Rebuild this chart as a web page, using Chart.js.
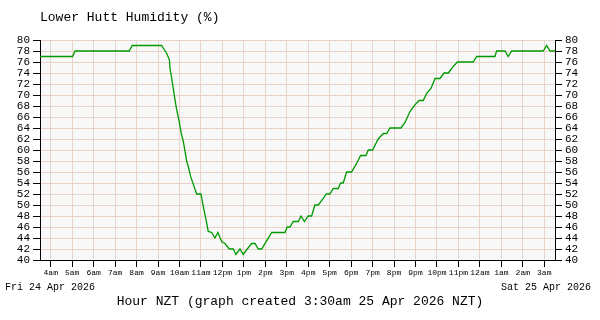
<!DOCTYPE html>
<html>
<head>
    <meta charset="utf-8">
    <title>Lower Hutt Humidity</title>
    <script src="https://cdn.jsdelivr.net/npm/chart.js@4.4.1/dist/chart.umd.min.js"></script>
    <style>
        body { margin: 0; background: #fff; }
        #chart-wrapper { position: relative; width: 600px; height: 320px; }
    </style>
</head>
<body>
<div id="chart-wrapper">
    <canvas id="myChart"></canvas>
</div>
<script>

// hour ticks (hours since midnight Fri 24 Apr)
var hours = [4, 5, 6, 7, 8, 9, 10, 11, 12, 13, 14, 15, 16, 17, 18, 19, 20, 21, 22, 23, 24, 25, 26, 27];
var hourLabels = ['4am', '5am', '6am', '7am', '8am', '9am', '10am', '11am', '12pm', '1pm', '2pm', '3pm',
                  '4pm', '5pm', '6pm', '7pm', '8pm', '9pm', '10pm', '11pm', '12am', '1am', '2am', '3am'];

var times = [3.5, 5.02, 5.13, 7.66, 7.80, 9.17, 9.25, 9.40, 9.53, 9.56, 9.64, 9.71, 9.79, 9.87, 9.99,
             10.07, 10.18, 10.26, 10.34, 10.41, 10.52, 10.64, 10.80, 11.00, 11.11, 11.24, 11.34, 11.50,
             11.65, 11.79, 11.97, 12.12, 12.32, 12.51, 12.63, 12.82, 12.97, 13.16, 13.36, 13.52, 13.67,
             13.83, 14.03, 14.30, 14.92, 15.02, 15.15, 15.30, 15.54, 15.66, 15.82, 16.00, 16.16, 16.31,
             16.47, 16.70, 16.84, 17.01, 17.17, 17.40, 17.51, 17.63, 17.79, 18.02, 18.26, 18.44, 18.69,
             18.80, 19.00, 19.26, 19.50, 19.66, 19.81, 20.32, 20.51, 20.74, 20.97, 21.17, 21.36, 21.52,
             21.72, 21.91, 22.14, 22.33, 22.53, 22.76, 22.96, 23.69, 23.85, 24.70, 24.78, 25.17, 25.32,
             25.48, 26.95, 27.11, 27.27, 27.5];
var humidity = [77, 77, 78, 78, 79, 79, 78.5, 77.6, 76.4, 74.8, 73, 71.2, 69.1, 67.3, 65.1,
                63.3, 61.5, 59.7, 57.9, 57, 55.2, 53.8, 52, 52, 49.7, 47.3, 45.2, 45,
                44, 45, 43.3, 43, 42, 42, 41, 42, 41, 42, 43, 43, 42,
                42, 43.3, 45, 45, 46, 46, 47, 47, 48, 47, 48, 48, 50,
                50, 51.2, 52, 52, 53, 53, 54, 54, 56, 56, 57.6, 59, 59,
                60, 60, 62, 63, 63, 64, 64, 65, 67, 68.2, 69, 69, 70.3,
                71.2, 73, 73, 74, 74, 75.2, 76, 76, 77, 77, 78, 78, 77,
                78, 78, 79, 78, 78];

var gridColor = '#e8d3c8';
var mono = 'Liberation Mono';

var points = times.map(function (t, i) { return { x: t, y: humidity[i] }; });

// plot background and the extra labels
var decor = {
    id: 'decor',
    beforeDraw: function (chart) {
        var a = chart.chartArea;
        var c = chart.ctx;
        c.save();
        c.fillStyle = '#f8f8f8';
        c.fillRect(a.left, a.top, a.right - a.left, a.bottom - a.top);
        c.restore();
    },
    afterDraw: function (chart) {
        var c = chart.ctx;
        c.save();
        c.fillStyle = '#000';
        c.textBaseline = 'middle';
        c.font = '13px "' + mono + '"';
        c.textAlign = 'left';
        c.fillText('Lower Hutt Humidity (%)', 40, 18);
        c.textAlign = 'center';
        c.fillText('Hour NZT (graph created 3:30am 25 Apr 2026 NZT)', 300, 302);
        c.font = '10px "' + mono + '"';
        c.textAlign = 'left';
        c.fillText('Fri 24 Apr 2026', 5, 287);
        c.textAlign = 'right';
        c.fillText('Sat 25 Apr 2026', 591, 287);
        c.restore();
    }
};

var yTicks = { stepSize: 2, autoSkip: false, color: '#000', padding: 3, font: { family: mono, size: 11 } };

var config = {
    type: 'line',
    data: {
        datasets: [{
            data: points,
            borderColor: '#009900',
            borderWidth: 1.3,
            pointRadius: 0,
            tension: 0,
            fill: false
        }]
    },
    options: {
        responsive: true,
        maintainAspectRatio: false,
        animation: false,
        layout: { padding: { top: 40, bottom: 40, left: 0, right: 0 } },
        plugins: { legend: { display: false }, tooltip: { enabled: false } },
        scales: {
            x: {
                type: 'linear',
                min: 3.5,
                max: 27.5,
                afterBuildTicks: function (s) { s.ticks = hours.map(function (h) { return { value: h }; }); },
                afterFit: function (s) { s.height = 20; },
                ticks: {
                    autoSkip: false,
                    maxRotation: 0,
                    color: '#000',
                    padding: 1,
                    font: { family: mono, size: 8 },
                    callback: function (v, i) { return hourLabels[i]; }
                },
                grid: { color: gridColor, tickColor: '#000', tickLength: 7 },
                border: { color: '#000' }
            },
            y: {
                position: 'left',
                min: 40,
                max: 80,
                afterFit: function (s) { s.width = 40; },
                ticks: yTicks,
                grid: { color: gridColor, tickColor: '#000', tickLength: 7 },
                border: { color: '#000' }
            },
            y2: {
                position: 'right',
                min: 40,
                max: 80,
                afterFit: function (s) { s.width = 45; },
                ticks: yTicks,
                grid: { drawOnChartArea: false, tickColor: '#000', tickLength: 7 },
                border: { color: '#000' }
            }
        }
    },
    plugins: [decor]
};

var myChart = new Chart(document.getElementById('myChart'), config);

</script>
</body>
</html>
